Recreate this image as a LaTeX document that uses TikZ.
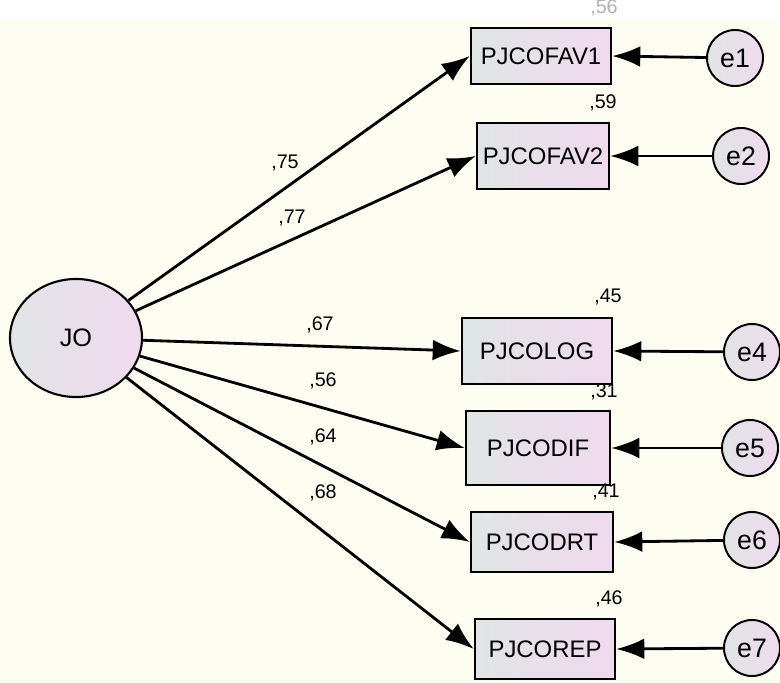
\documentclass[tikz,border=0pt]{standalone}
\usepackage{fontspec}
\setmainfont{Liberation Sans}
\usetikzlibrary{shapes.geometric,arrows.meta}
\definecolor{cream}{RGB}{253,253,241}
\definecolor{shadeL}{RGB}{224,229,229}
\definecolor{shadeR}{RGB}{240,218,238}

\begin{document}
\begin{tikzpicture}[x=0.025cm,y=-0.025cm]
	\fill[cream] (0,0) rectangle (780,682);
	\fill[white] (0,0) rectangle (780,20);
	\useasboundingbox (0,0) rectangle (780,682);

	\node[ellipse, draw, line width=1.5pt, left color=shadeL, right color=shadeR, minimum width=3.3cm, minimum height=2.95cm, font=\fontsize{18}{21}\selectfont] (JO) at (76,338) {JO};

	\node[rectangle, draw, line width=1.8pt, left color=shadeL, right color=shadeR, minimum width=3.5cm, minimum height=1.4cm, inner sep=0pt, font=\fontsize{17}{20}\selectfont] (FAV1) at (541,56) {PJCOFAV1};
	\node[rectangle, draw, line width=1.8pt, left color=shadeL, right color=shadeR, minimum width=3.3cm, minimum height=1.65cm, inner sep=0pt, font=\fontsize{17}{20}\selectfont] (FAV2) at (543,156) {PJCOFAV2};
	\node[rectangle, draw, line width=1.8pt, left color=shadeL, right color=shadeR, minimum width=3.75cm, minimum height=1.65cm, inner sep=0pt, font=\fontsize{17}{20}\selectfont] (LOG) at (537,351) {PJCOLOG};
	\node[rectangle, draw, line width=1.8pt, left color=shadeL, right color=shadeR, minimum width=3.6cm, minimum height=1.85cm, inner sep=0pt, font=\fontsize{17}{20}\selectfont] (DIF) at (538,448) {PJCODIF};
	\node[rectangle, draw, line width=1.8pt, left color=shadeL, right color=shadeR, minimum width=3.55cm, minimum height=1.5cm, inner sep=0pt, font=\fontsize{17}{20}\selectfont] (DRT) at (542,542) {PJCODRT};
	\node[rectangle, draw, line width=1.8pt, left color=shadeL, right color=shadeR, minimum width=3.5cm, minimum height=1.5cm, inner sep=0pt, font=\fontsize{17}{20}\selectfont] (REP) at (545,649) {PJCOREP};

	\node[circle, draw, line width=1.4pt, left color=shadeL, right color=shadeR, minimum size=1.4cm, inner sep=0pt, font=\fontsize{19}{22}\selectfont] (e1) at (735,58) {e1};
	\node[circle, draw, line width=1.4pt, left color=shadeL, right color=shadeR, minimum size=1.4cm, inner sep=0pt, font=\fontsize{19}{22}\selectfont] (e2) at (741,156) {e2};
	\node[circle, draw, line width=1.4pt, left color=shadeL, right color=shadeR, minimum size=1.4cm, inner sep=0pt, font=\fontsize{19}{22}\selectfont] (e4) at (752,352) {e4};
	\node[circle, draw, line width=1.4pt, left color=shadeL, right color=shadeR, minimum size=1.4cm, inner sep=0pt, font=\fontsize{19}{22}\selectfont] (e5) at (750,448) {e5};
	\node[circle, draw, line width=1.4pt, left color=shadeL, right color=shadeR, minimum size=1.4cm, inner sep=0pt, font=\fontsize{19}{22}\selectfont] (e6) at (752,540) {e6};
	\node[circle, draw, line width=1.4pt, left color=shadeL, right color=shadeR, minimum size=1.4cm, inner sep=0pt, font=\fontsize{19}{22}\selectfont] (e7) at (752,648) {e7};

	% loadings
	\draw[black,-{Latex[length=0.7cm,width=0.52cm]},line width=2pt](JO) to (FAV1.west);
	\draw[black,-{Latex[length=0.7cm,width=0.52cm]},line width=2pt](JO) to (FAV2.west);
	\draw[black,-{Latex[length=0.7cm,width=0.52cm]},line width=2pt](JO) to (LOG.west);
	\draw[black,-{Latex[length=0.7cm,width=0.52cm]},line width=2pt](JO) to (DIF.west);
	\draw[black,-{Latex[length=0.7cm,width=0.52cm]},line width=2pt](JO) to (DRT.west);
	\draw[black,-{Latex[length=0.7cm,width=0.52cm]},line width=2pt](JO) to (REP.west);
	% errors
	\draw[black,-{Latex[length=0.7cm,width=0.52cm]},line width=2pt](e1) to (FAV1.east);
	\draw[black,-{Latex[length=0.7cm,width=0.52cm]},line width=2pt](e2) to (FAV2.east);
	\draw[black,-{Latex[length=0.7cm,width=0.52cm]},line width=2pt](e4) to (LOG.east);
	\draw[black,-{Latex[length=0.7cm,width=0.52cm]},line width=2pt](e5) to (DIF.east);
	\draw[black,-{Latex[length=0.7cm,width=0.52cm]},line width=2pt](e6) to (DRT.east);
	\draw[black,-{Latex[length=0.7cm,width=0.52cm]},line width=2pt](e7) to (REP.east);

	% weights
	\node[font=\fontsize{14}{16}\selectfont] (w1) at (285,163) {,75};
	\node[font=\fontsize{14}{16}\selectfont] (w2) at (292,218) {,77};
	\node[font=\fontsize{14}{16}\selectfont] (w4) at (320,325) {,67};
	\node[font=\fontsize{14}{16}\selectfont] (w5) at (323,381) {,56};
	\node[font=\fontsize{14}{16}\selectfont] (w6) at (323,437) {,64};
	\node[font=\fontsize{14}{16}\selectfont] (w7) at (323,493) {,68};
	% squared correlations
	\node[font=\fontsize{14}{16}\selectfont, text=black!30] (r1) at (604,8) {,56};
	\node[font=\fontsize{14}{16}\selectfont] (r2) at (603,103) {,59};
	\node[font=\fontsize{14}{16}\selectfont] (r4) at (608,297) {,45};
	\node[font=\fontsize{14}{16}\selectfont] (r5) at (604,392) {,31};
	\node[font=\fontsize{14}{16}\selectfont] (r6) at (606,492) {,41};
	\node[font=\fontsize{14}{16}\selectfont] (r7) at (609,599) {,46};
\end{tikzpicture}
\end{document}
